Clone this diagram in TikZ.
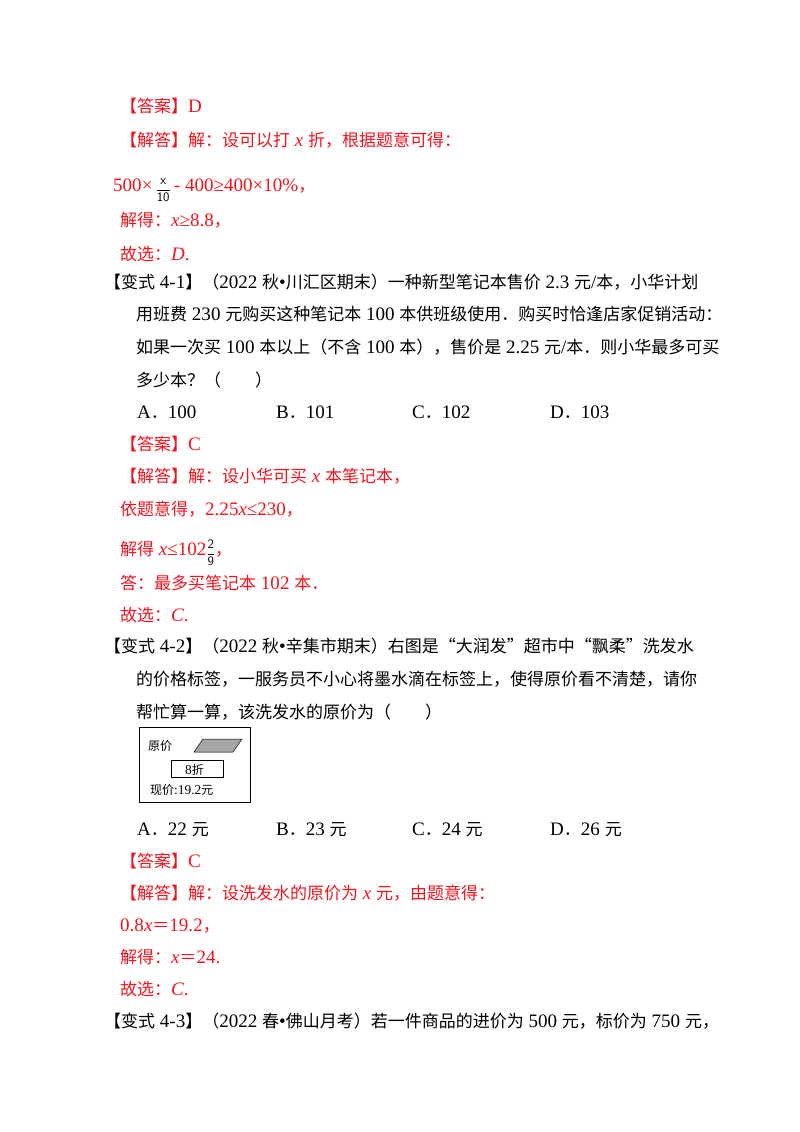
\documentclass[tikz,border=0pt]{standalone}
\usepackage{amsmath}
\usepackage{fontspec}
\setmainfont[Scale=1.12]{Liberation Serif}
\newfontfamily\cjk{Noto Sans CJK SC}
\newcommand\C[1]{{\cjk #1}}
\newcommand\fr[2]{\raisebox{-2pt}{\fontsize{13}{13}\selectfont\color{black}$\genfrac{}{}{0.5pt}{0}{\mathsf{#1}}{\mathsf{#2}}$}}
\definecolor{ansred}{RGB}{240,20,30}
\begin{document}
\begin{tikzpicture}[x=1pt,y=-1pt,
  tl/.style={anchor=base west,inner sep=0pt,font=\fontsize{17}{19}\selectfont},
  rl/.style={tl,text=ansred},
  sm/.style={anchor=base west,inner sep=0pt,font=\fontsize{12}{14}\selectfont}]
\useasboundingbox (0,0) rectangle (800,1132);
\node[rl] (l1) at (120,112) {\C{【答案】}D};
\node[rl] (l2) at (120,146) {\C{【解答】解：设可以打} \textit{x} \C{折，根据题意可得：}};
\node[rl] (l3) at (113,191) {500×\,\fr{x}{10}\,- 400≥400×10\%\C{，}};
\node[rl] (l4) at (120,226) {\C{解得：}\textit{x}≥8.8\C{，}};
\node[rl] (l5) at (120,260) {\C{故选：}\textit{D}.};
\node[tl] (v1) at (104,288) {\C{【变式} 4-1\C{】（}2022 \C{秋}•\C{川汇区期末）一种新型笔记本售价} 2.3 \C{元}/\C{本，小华计划}};
\node[tl] at (136,320) {\C{用班费} 230 \C{元购买这种笔记本} 100 \C{本供班级使用．购买时恰逢店家促销活动：}};
\node[tl] at (136,353) {\C{如果一次买} 100 \C{本以上（不含} 100 \C{本），售价是} 2.25 \C{元}/\C{本．则小华最多可买}};
\node[tl] at (136,386) {\C{多少本？（\quad\quad ）}};
\node[tl] at (137,418) {A\C{．}100};
\node[tl] at (276,418) {B\C{．}101};
\node[tl] at (412,418) {C\C{．}102};
\node[tl] at (550,418) {D\C{．}103};
\node[rl] at (120,450) {\C{【答案】}C};
\node[rl] at (120,482) {\C{【解答】解：设小华可买} \textit{x} \C{本笔记本，}};
\node[rl] at (120,515) {\C{依题意得，}2.25\textit{x}≤230\C{，}};
\node[rl] at (120,555) {\C{解得} \textit{x}≤102\fr{2}{9}\C{，}};
\node[rl] at (120,589) {\C{答：最多买笔记本} 102 \C{本．}};
\node[rl] at (120,621) {\C{故选：}\textit{C}.};
\node[tl] at (104,652) {\C{【变式} 4-2\C{】（}2022 \C{秋}•\C{辛集市期末）右图是“大润发”超市中“飘柔”洗发水}};
\node[tl] at (136,685) {\C{的价格标签，一服务员不小心将墨水滴在标签上，使得原价看不清楚，请你}};
\node[tl] at (136,718) {\C{帮忙算一算，该洗发水的原价为（\quad\quad ）}};
% price tag
\draw[line width=0.8pt] (139,727) rectangle (250,802);
\node[sm] (yj) at (148,750) {\C{原价}};
\filldraw[fill=gray!70,draw=black,line width=0.5pt] (203,739) -- (242,739) -- (233,752) -- (194,752) -- cycle;
\draw[line width=0.5pt] (171,760) rectangle (223,777);
\node[sm] (zk) at (185,774) {8\C{折}};
\node[sm] (xj) at (150,794) {\C{现价}:19.2\C{元}};
\node[tl] at (137,835) {A\C{．}22 \C{元}};
\node[tl] at (276,835) {B\C{．}23 \C{元}};
\node[tl] at (412,835) {C\C{．}24 \C{元}};
\node[tl] at (550,835) {D\C{．}26 \C{元}};
\node[rl] at (120,867) {\C{【答案】}C};
\node[rl] at (120,899) {\C{【解答】解：设洗发水的原价为} \textit{x} \C{元，由题意得：}};
\node[rl] at (120,931) {0.8\textit{x}\C{＝}19.2\C{，}};
\node[rl] at (120,963) {\C{解得：}\textit{x}\C{＝}24.};
\node[rl] at (120,995) {\C{故选：}\textit{C}.};
\node[tl] at (104,1027) {\C{【变式} 4-3\C{】（}2022 \C{春}•\C{佛山月考）若一件商品的进价为} 500 \C{元，标价为} 750 \C{元，}};
\end{tikzpicture}
\end{document}
